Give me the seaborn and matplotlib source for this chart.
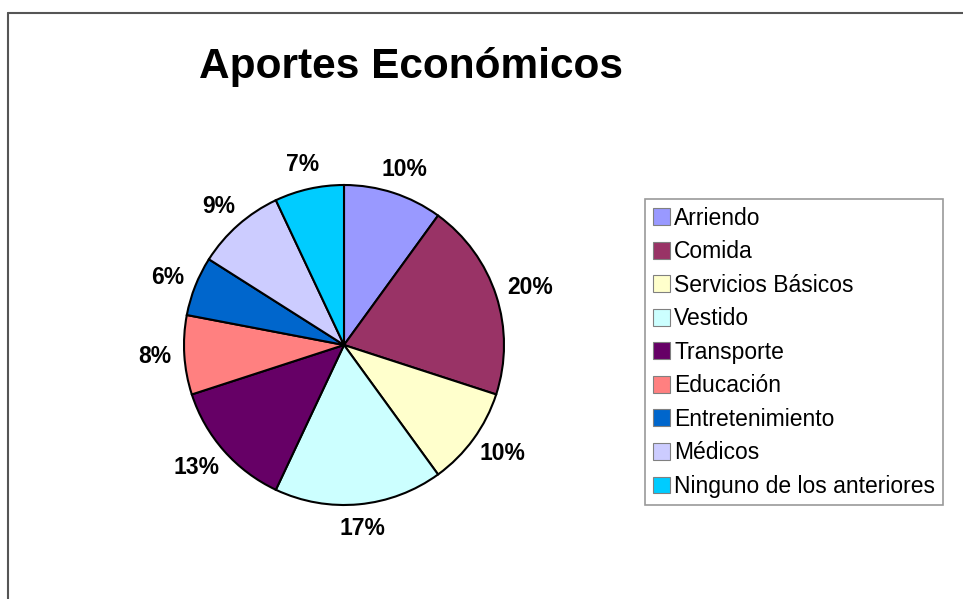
import matplotlib
matplotlib.use('Agg')
import matplotlib.pyplot as plt
import seaborn as sns
import numpy as np
from matplotlib.lines import Line2D

sns.set_style("white")
plt.rcParams['font.family'] = ['Liberation Sans', 'DejaVu Sans']
plt.rcParams['text.color'] = 'black'

# datos
categorias = ['Arriendo', 'Comida', 'Servicios Básicos', 'Vestido', 'Transporte',
              'Educación', 'Entretenimiento', 'Médicos', 'Ninguno de los anteriores']
porcentajes = [10, 20, 10, 17, 13, 8, 6, 9, 7]
colores = ['#9999FF', '#993366', '#FFFFCC', '#CCFFFF', '#660066',
           '#FF8080', '#0066CC', '#CCCCFF', '#00CCFF']

W, H = 963, 599
fig = plt.figure(figsize=(W / 100, H / 100), dpi=100)

# pie: centro (344, 345) px, radio 160 px
cx, cy, r = 344, 345, 160
ax = fig.add_axes([(cx - r) / W, (H - cy - r) / H, 2 * r / W, 2 * r / H])
wedges, texts, autotexts = ax.pie(
    porcentajes, colors=sns.color_palette(colores), startangle=90, counterclock=False,
    autopct='%1.0f%%', pctdistance=1.2, radius=1,
    wedgeprops=dict(edgecolor='black', linewidth=1.5))
for t in autotexts:
    t.set_fontsize(16.5)
    t.set_fontweight('bold')
ax.set_xlim(-1, 1)
ax.set_ylim(-1, 1)
ax.set_aspect('equal')
ax.axis('off')

# etiquetas al estilo Excel: caja de texto pegada fuera del borde
gap = 13  # px
renderer = fig.canvas.get_renderer()
for w, t in zip(wedges, autotexts):
    ang = np.deg2rad((w.theta1 + w.theta2) / 2)
    ux, uy = np.cos(ang), np.sin(ang)
    bb = t.get_window_extent(renderer)
    ox = ux * bb.width / 2
    oy = uy * bb.height / 2
    t.set_position(((r + gap) * ux / r + ox / r, (r + gap) * uy / r + oy / r))

fig.text(411 / W, 1 - 78 / H, 'Aportes Económicos', fontsize=30.5, fontweight='bold',
         ha='center', va='baseline')

leg = fig.legend(wedges, categorias, loc='upper left',
                 bbox_to_anchor=(645 / W, 1 - 199 / H), borderaxespad=0,
                 fontsize=16.5, frameon=True, fancybox=False,
                 handlelength=0.75, handleheight=0.75, handletextpad=0.2,
                 labelspacing=0.46, borderpad=0.33)
leg.get_frame().set_edgecolor('#808080')
leg.get_frame().set_linewidth(1.2)
for h in leg.legend_handles:
    h.set_edgecolor('#808080')
    h.set_linewidth(0.8)

# marco
fig.add_artist(Line2D([8 / W, 1], [1 - 13 / H, 1 - 13 / H], color='#555555', lw=1.5))
fig.add_artist(Line2D([8 / W, 8 / W], [0, 1 - 13 / H], color='#555555', lw=1.5))

plt.savefig('out.png', dpi=100)
